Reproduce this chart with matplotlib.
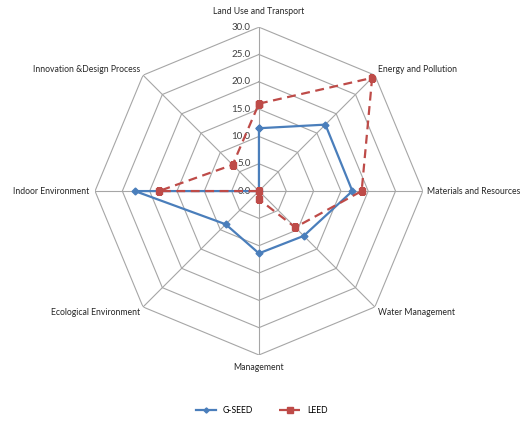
import numpy as np
import matplotlib.pyplot as plt

plt.rcParams['font.family'] = ['Lato', 'DejaVu Sans']

# categorias (sentido horário, começando no topo)
categorias = ["Land Use and Transport", "Energy and Pollution", "Materials and Resources",
              "Water Management", "Management", "Ecological Environment",
              "Indoor Environment", "Innovation &Design Process"]
gseed = [11.5, 17.2, 17.1, 11.6, 11.4, 8.6, 22.7, 0.0]
leed = [16.0, 29.3, 18.8, 9.4, 1.5, 0.0, 18.3, 6.8]
niveis = [0, 5, 10, 15, 20, 25, 30]
niveis_txt = ["0.0", "5.0", "10.0", "15.0", "20.0", "25.0", "30.0"]

n = len(categorias)
ang = np.linspace(0, 2 * np.pi, n, endpoint=False)
ang_f = np.append(ang, ang[0])

fig = plt.figure(figsize=(5.23, 4.23), dpi=100)
ax = fig.add_axes([0.1816, 0.1608, 0.627, 0.775], projection='polar')
ax.set_theta_zero_location('N')
ax.set_theta_direction(-1)
ax.set_ylim(0, 30)
ax.grid(False)
ax.spines['polar'].set_visible(False)
ax.set_xticks([])
ax.set_yticks([])

# grade octogonal
for nv in niveis[1:]:
    ax.plot(ang_f, [nv] * (n + 1), color='#A6A6A6', lw=0.8, zorder=1)
for a in ang:
    ax.plot([a, a], [0, 30], color='#A6A6A6', lw=0.8, zorder=1)

# rótulos radiais
for nv, t in zip(niveis, niveis_txt):
    ax.annotate(t, xy=(0, nv), xytext=(-6, 0), textcoords='offset points',
                ha='right', va='center', fontsize=7, color='#404040', zorder=2)

# séries
ax.plot(ang_f, np.append(gseed, gseed[0]), color='#4A7EBB', lw=1.6,
        marker='D', ms=3.5, label='G-SEED', zorder=3)
ax.plot(ang_f, np.append(leed, leed[0]), color='#BE4B48', lw=1.6, ls=(0, (4, 2.5)),
        marker='s', ms=5, label='LEED', zorder=4)

# rótulos das categorias
alin = [('center', 'bottom'), ('left', 'bottom'), ('left', 'center'), ('left', 'top'),
        ('center', 'top'), ('right', 'top'), ('right', 'center'), ('right', 'bottom')]
desloc = [(0, 8), (2, 1), (3, 0), (2, -1), (0, -6), (-2, -1), (-4, 0), (-2, 1)]
for a, c, (h, v), d in zip(ang, categorias, alin, desloc):
    ax.annotate(c, xy=(a, 30), xytext=d, textcoords='offset points',
                ha=h, va=v, fontsize=6.2, color='#262626')

fig.legend(loc='lower center', ncol=2, frameon=False, fontsize=6.2,
           bbox_to_anchor=(0.5, 0.0), handlelength=2.4, columnspacing=3,
           markerscale=0.75)

fig.savefig('out.png', dpi=100)
